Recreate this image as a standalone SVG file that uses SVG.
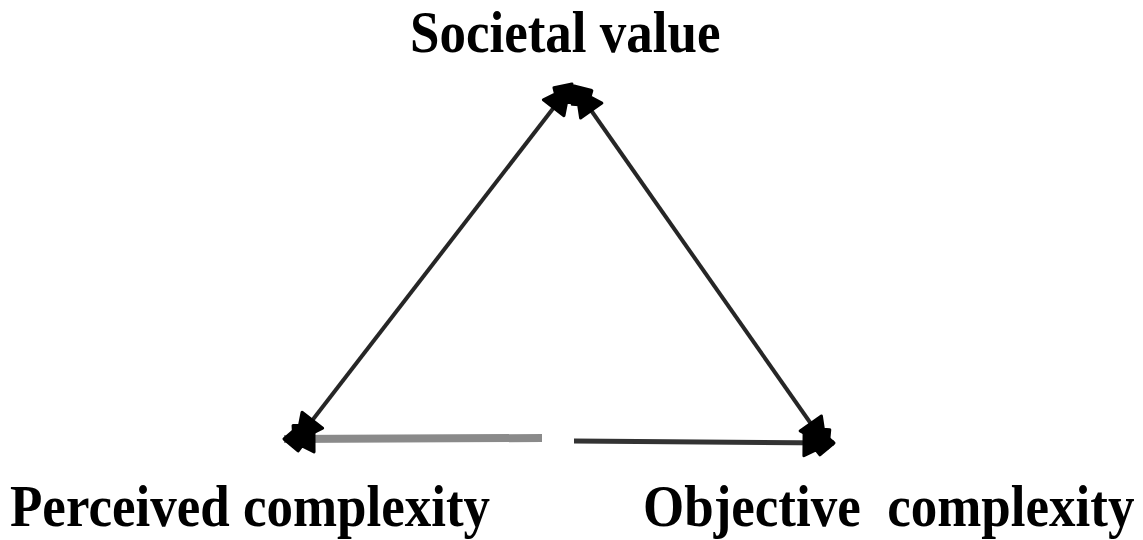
<svg xmlns="http://www.w3.org/2000/svg" width="1143" height="540" viewBox="0 0 1143 540">
  <style>
    .label { font-family: "Liberation Serif", "Times New Roman", serif; font-weight: bold; font-size: 53px; fill: #000; white-space: pre; }
    .edge { fill: none; stroke: #262626; stroke-width: 4; }
    .edge-soft { fill: none; stroke: #8a8a8a; stroke-width: 8; }
    .edge-dark { fill: none; stroke: #333; stroke-width: 5; }
  </style>
  <defs>
    <!-- heavy, blunt arrowhead used at every connector end -->
    <marker id="head" viewBox="-36 -17 40 34" refX="0" refY="0" markerWidth="40" markerHeight="34" markerUnits="userSpaceOnUse" orient="auto-start-reverse">
      <path d="M0,0 L-14,-12 L-18,-7 L-30,-13 L-30,13 L-18,7 L-14,12 Z" fill="#000" stroke="#000" stroke-width="3" stroke-linejoin="round"/>
    </marker>
  </defs>
  <rect width="1143" height="540" fill="#fff"/>

  <g id="connectors">
    <!-- Societal value <-> Perceived complexity -->
    <line class="edge" x1="572" y1="84" x2="294" y2="444" marker-start="url(#head)" marker-end="url(#head)"/>
    <!-- Societal value <-> Objective complexity -->
    <line class="edge" x1="574" y1="86" x2="828" y2="448" marker-start="url(#head)" marker-end="url(#head)"/>
    <!-- Objective complexity -> Perceived complexity (split line) -->
    <line class="edge-soft" x1="542" y1="438" x2="284" y2="439" marker-end="url(#head)"/>
    <line class="edge-dark" x1="574" y1="441" x2="834" y2="443" marker-end="url(#head)"/>
  </g>

  <!-- labels are drawn slightly tall: scaled 1.12 vertically about their baseline -->
  <g id="node-societal-value" transform="translate(410,52) scale(1,1.12)">
    <text class="label" x="0" y="0">Societal value</text>
  </g>
  <g id="node-perceived-complexity" transform="translate(10,526) scale(1,1.12)">
    <text class="label" x="0" y="0">Perceived complexity</text>
  </g>
  <g id="node-objective-complexity" transform="translate(643,526) scale(1,1.12)">
    <text class="label" x="0" y="0">Objective  complexity</text>
  </g>
</svg>
